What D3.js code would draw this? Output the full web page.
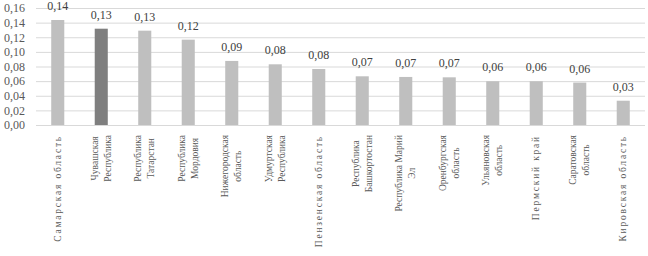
<!DOCTYPE html>
<html>
<head>
<meta charset="utf-8">
<script src="https://cdn.jsdelivr.net/npm/d3@7"></script>
<style>
  html, body { margin: 0; padding: 0; background: #fff; }
  svg { display: block; font-family: "Liberation Serif", "DejaVu Serif", serif; }
</style>
</head>
<body>
<svg id="chart" width="648" height="256"></svg>
<script>
const regions = [
    ["Самарская область"],
    ["Чувашская", "Республика"],
    ["Республика", "Татарстан"],
    ["Республика", "Мордовия"],
    ["Нижегородская", "область"],
    ["Удмуртская", "Республика"],
    ["Пензенская область"],
    ["Республика", "Башкортостан"],
    ["Республика Марий", "Эл"],
    ["Оренбургская", "область"],
    ["Ульяновская", "область"],
    ["Пермский край"],
    ["Саратовская", "область"],
    ["Кировская область"]
]
const values = [0.1436, 0.1317, 0.129, 0.1167, 0.0876, 0.083, 0.0766, 0.0666, 0.0657, 0.0652, 0.0598, 0.0598, 0.058, 0.0332]
const highlight = 1
const yTicks = [0, 0.02, 0.04, 0.06, 0.08, 0.10, 0.12, 0.14, 0.16]

const svg = d3.select("#chart")
const width = 648
const height = 256
const margin = {top: 8, right: 3, bottom: 131, left: 36}

let idx = d3.range(values.length)
let xScale = d3.scaleBand()
    .domain(idx)
    .range([margin.left, width - margin.right])
    .paddingInner(0.7)
    .paddingOuter(0.35)
let yScale = d3.scaleLinear()
    .domain([0, 0.16])
    .range([height - margin.bottom, margin.top])

const fmt = v => d3.format(".2f")(v).replace(".", ",")

// grid
let yAxis = g => g
    .attr("transform", `translate(${margin.left},0)`)
    .call(d3.axisLeft(yScale).tickValues(yTicks).tickSize(-(width - margin.left - margin.right)).tickFormat(fmt))
    .call(g => g.select(".domain").remove())
    .call(g => g.selectAll(".tick line").attr("stroke", "#d9d9d9"))
    .call(g => g.selectAll(".tick text")
        .attr("x", -11)
        .attr("fill", "#595959")
        .attr("font-size", 12)
        .attr("font-family", "Liberation Serif"))

svg.append("g").call(yAxis)

svg.append("g")
    .selectAll("rect")
    .data(idx)
    .join("rect")
    .attr("x", i => xScale(i))
    .attr("width", xScale.bandwidth())
    .attr("y", i => yScale(values[i]))
    .attr("height", i => yScale(0) - yScale(values[i]))
    .attr("fill", i => i === highlight ? "#7f7f7f" : "#bfbfbf")

// value labels
svg.append("g")
    .selectAll("text")
    .data(idx)
    .join("text")
    .attr("x", i => xScale(i) + xScale.bandwidth() / 2)
    .attr("y", i => yScale(values[i]) - 10)
    .attr("text-anchor", "middle")
    .attr("font-size", 12)
    .attr("fill", "#404040")
    .text(i => fmt(values[i]))

// category labels, rotated
const lineH = 13
const labelTop = height - margin.bottom + 10
let cats = svg.append("g")
    .selectAll("g")
    .data(idx)
    .join("g")
    .attr("transform", i => `translate(${xScale(i) + xScale.bandwidth() / 2},${labelTop}) rotate(-90)`)

cats.each(function (i) {
    let g = d3.select(this)
    let lines = regions[i]
    let n = lines.length
    let texts = g.selectAll("text")
        .data(lines)
        .join("text")
        .attr("font-size", 9.5)
        .attr("fill", "#595959")
        .attr("letter-spacing", n === 1 ? 1.8 : 0)
        .attr("dominant-baseline", "central")
        .attr("text-anchor", "middle")
        .attr("y", (d, j) => (j - (n - 1) / 2) * lineH)
        .text(d => d)
    let maxLen = d3.max(texts.nodes(), t => t.getComputedTextLength())
    texts.attr("x", -maxLen / 2)
})
</script>
</body>
</html>
